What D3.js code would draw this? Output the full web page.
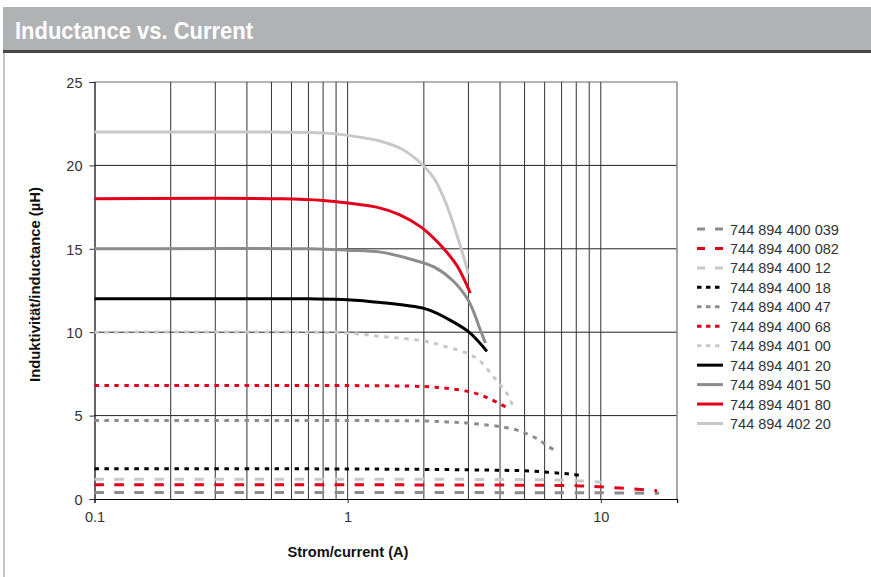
<!DOCTYPE html>
<html>
<head>
<meta charset="utf-8">
<script src="https://cdn.jsdelivr.net/npm/d3@7"></script>
<style>
  body { margin: 0; background: #fff; }
  text { font-family: "Liberation Sans", Arial, Helvetica, sans-serif; }
</style>
</head>
<body>
<svg id="chart"></svg>
<script>
// part numbers shown in the legend
var names = [
  "744 894 400 039", "744 894 400 082", "744 894 400 12", "744 894 400 18",
  "744 894 400 47", "744 894 400 68", "744 894 401 00", "744 894 401 20",
  "744 894 401 50", "744 894 401 80", "744 894 402 20"
];
// current (A), one array per part
var currents = [
  [0.1, 1, 5, 10, 17],
  [0.1, 1, 3, 6, 8, 9.3, 11.2, 13.6, 16.7],
  [0.1, 1, 5, 8, 10],
  [0.1, 1, 3, 5.2, 6.4, 7.5, 8.6],
  [0.1, 1, 2, 2.45, 3, 4.5, 5.2, 5.7, 6.2, 6.7],
  [0.1, 1, 2, 2.45, 3, 3.35, 3.6, 4, 4.35],
  [0.1, 0.7, 1, 1.35, 2, 2.45, 3, 3.35, 3.85, 4.25, 4.5],
  [0.1, 0.7, 1, 1.35, 2, 2.2, 2.45, 3, 3.55],
  [0.1, 0.7, 1, 1.35, 1.85, 2.2, 2.6, 3, 3.35, 3.5],
  [0.1, 0.55, 0.8, 1, 1.3, 1.6, 1.95, 2.3, 2.7, 3.05],
  [0.1, 0.5, 0.8, 1, 1.35, 1.65, 2, 2.2, 2.45, 2.77, 3.0]
];
// inductance (uH) at those currents
var inductances = [
  [0.39, 0.39, 0.38, 0.37, 0.34],
  [0.85, 0.85, 0.84, 0.82, 0.8, 0.75, 0.68, 0.6, 0.5],
  [1.18, 1.18, 1.16, 1.1, 1.0],
  [1.82, 1.8, 1.75, 1.68, 1.58, 1.5, 1.38],
  [4.7, 4.7, 4.68, 4.62, 4.55, 4.2, 3.85, 3.55, 3.15, 2.85],
  [6.8, 6.8, 6.74, 6.64, 6.45, 6.24, 6.04, 5.7, 5.4],
  [10, 10, 9.95, 9.75, 9.47, 9.13, 8.7, 8.23, 7.15, 6.35, 5.55],
  [12, 12, 11.95, 11.78, 11.43, 11.2, 10.85, 10.03, 8.85],
  [15, 15, 14.92, 14.8, 14.3, 13.9, 13.1, 11.9, 10.1, 9.35],
  [18, 18, 17.9, 17.75, 17.5, 17.05, 16.3, 15.3, 14.0, 12.35],
  [22, 22, 21.95, 21.8, 21.45, 20.95, 19.95, 19.2, 17.7, 15.3, 13.5]
];
var colors = ["#8c8c8c", "#e2001a", "#c8c8c8", "#000000", "#8c8c8c", "#e2001a",
  "#c8c8c8", "#000000", "#8c8c8c", "#e2001a", "#c8c8c8"];
var dashes = ["9.5,10.5", "9.5,10.5", "9.5,10.5", "4.5,5.5", "4.5,5.5", "4.5,5.5",
  "4.5,5.5", null, null, null, null];

var xTicks = [0.1, 1, 10];
var xGrid = [0.2, 0.3, 0.4, 0.5, 0.6, 0.7, 0.8, 0.9, 1, 2, 3, 4, 5, 6, 7, 8, 9, 10, 20];
var yTicks = [0, 5, 10, 15, 20, 25];

var W = 871, H = 577;
var plot = { left: 94.5, right: 677, top: 82, bottom: 499 };

var svg = d3.select("#chart").attr("width", W).attr("height", H);

// title bar
svg.append("rect").attr("x", 3).attr("y", 7).attr("width", W - 3).attr("height", 44)
  .attr("fill", "#b1b2b4");
svg.append("rect").attr("x", 3).attr("y", 50).attr("width", W - 3).attr("height", 3)
  .attr("fill", "#474747");
svg.append("line").attr("x1", 4).attr("x2", 4).attr("y1", 53).attr("y2", H)
  .attr("stroke", "#c4c4c4").attr("stroke-width", 2);
svg.append("text").attr("x", 15).attr("y", 39)
  .attr("fill", "#fff").attr("font-weight", "bold").attr("font-size", 24)
  .attr("textLength", 238).attr("lengthAdjust", "spacingAndGlyphs")
  .text("Inductance vs. Current");

var x = d3.scaleLog().domain([0.1, 20]).range([plot.left, plot.right]);
var y = d3.scaleLinear().domain([0, 25]).range([plot.bottom, plot.top]);

// grid
var grid = svg.append("g");
grid.selectAll(".hg").data(yTicks.slice(1)).enter().append("line")
  .attr("x1", plot.left).attr("x2", plot.right)
  .attr("y1", d => y(d)).attr("y2", d => y(d))
  .attr("stroke", d => d == 25 ? "#6a6a6a" : "#222").attr("stroke-width", 1);
grid.selectAll(".vg").data(xGrid).enter().append("line")
  .attr("x1", d => x(d)).attr("x2", d => x(d))
  .attr("y1", plot.top).attr("y2", plot.bottom)
  .attr("stroke", d => d == 20 ? "#8a8a8a" : "#333").attr("stroke-width", d => d == 20 ? 1.5 : 1);

// axes
var xAxis = svg.append("g").attr("transform", `translate(0,${plot.bottom})`)
  .call(d3.axisBottom(x).tickValues(xTicks).tickFormat(d3.format("")).tickSize(4).tickPadding(9));
var yAxis = svg.append("g").attr("transform", `translate(${plot.left},0)`)
  .call(d3.axisLeft(y).tickValues(yTicks).tickSize(5).tickPadding(7));
[xAxis, yAxis].forEach(function (a) {
  a.select(".domain").attr("stroke", "#000").attr("stroke-width", 1.2);
  a.selectAll(".tick line").attr("stroke", "#333");
  a.selectAll(".tick text").attr("font-size", 14.5).attr("fill", "#333")
    .attr("font-family", "Liberation Sans, Arial, sans-serif");
});
yAxis.selectAll(".tick text").attr("dy", "0.36em");

// axis titles
svg.append("text")
  .attr("transform", "translate(39.5,284.5) rotate(-90)")
  .attr("text-anchor", "middle").attr("font-weight", "bold").attr("font-size", 14)
  .attr("textLength", 195).attr("lengthAdjust", "spacingAndGlyphs")
  .attr("fill", "#111").text("Induktivität/inductance (µH)");
svg.append("text").attr("x", 348).attr("y", 557)
  .attr("text-anchor", "middle").attr("font-weight", "bold").attr("font-size", 14)
  .attr("textLength", 121).attr("lengthAdjust", "spacingAndGlyphs")
  .attr("fill", "#111").text("Strom/current (A)");

// curves
var line = d3.line().x(d => x(d[0])).y(d => y(d[1])).curve(d3.curveCatmullRom.alpha(0.5));
var series = names.map(function (n, i) {
  return { name: n, pts: currents[i].map((c, j) => [c, inductances[i][j]]),
    color: colors[i], dash: dashes[i] };
});
svg.append("g").selectAll("path").data(series).enter().append("path")
  .attr("d", d => line(d.pts))
  .attr("fill", "none").attr("stroke", d => d.color).attr("stroke-width", 3)
  .attr("stroke-dasharray", d => d.dash);

// legend
var leg = svg.append("g").selectAll("g").data(series).enter().append("g")
  .attr("transform", (d, i) => `translate(697,${229 + i * 19.45})`);
leg.append("line").attr("x1", 0).attr("x2", 26).attr("y1", 0).attr("y2", 0)
  .attr("stroke", d => d.color).attr("stroke-width", 3)
  .attr("stroke-dasharray", d => d.dash ? (d.dash[0] == "9" ? "8,10" : "4.5,4.5") : null);
leg.append("text").attr("x", 33).attr("y", 5.5)
  .attr("font-size", 14.5).attr("fill", "#333").text(d => d.name);
</script>
</body>
</html>
